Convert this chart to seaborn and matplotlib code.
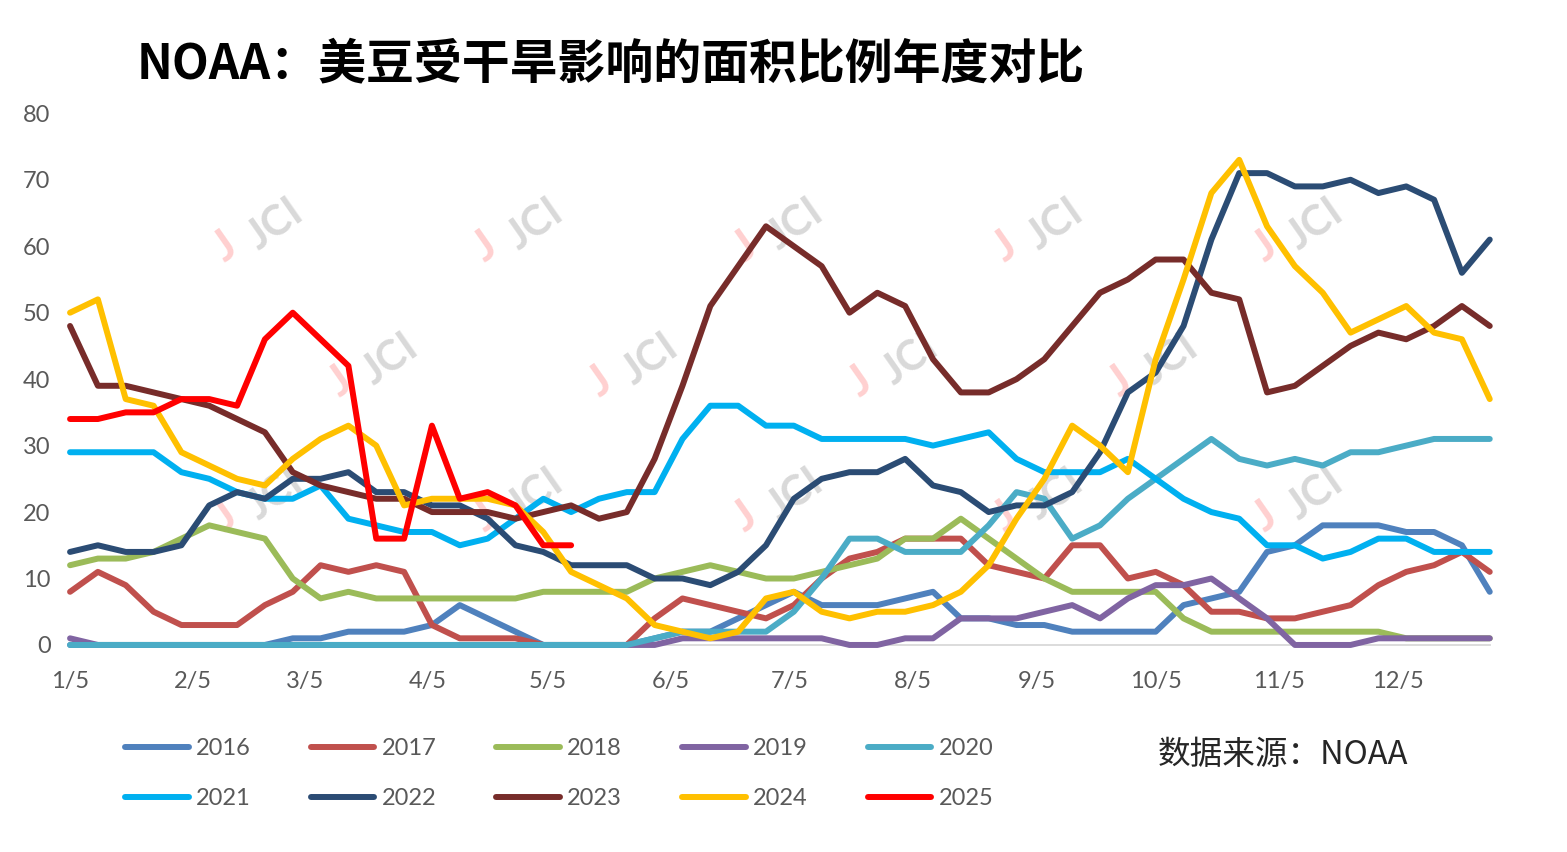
import pandas as pd
import matplotlib
matplotlib.use("Agg")
import matplotlib.pyplot as plt
import matplotlib.dates as mdates
from matplotlib.ticker import FuncFormatter
import seaborn as sns

# weekly points, plotted on a common calendar year
weeks = pd.date_range("2025-01-05", periods=52, freq="7D")

years = ["2016", "2017", "2018", "2019", "2020",
         "2021", "2022", "2023", "2024", "2025"]
colors = ["#4F81BD", "#C0504D", "#9BBB59", "#8064A2", "#4BACC6",
          "#00B0F0", "#2B4C74", "#772C2A", "#FFC000", "#FF0000"]

y2016 = [0, 0, 0, 0, 0, 0, 0, 0, 1, 1, 2, 2, 2, 3, 6, 4, 2, 0, 0, 0, 0, 1, 2, 2, 4, 6,
         8, 6, 6, 6, 7, 8, 4, 4, 3, 3, 2, 2, 2, 2, 6, 7, 8, 14, 15, 18, 18, 18, 17, 17, 15, 8]
y2017 = [8, 11, 9, 5, 3, 3, 3, 6, 8, 12, 11, 12, 11, 3, 1, 1, 1, 0, 0, 0, 0, 4, 7, 6, 5, 4,
         6, 10, 13, 14, 16, 16, 16, 12, 11, 10, 15, 15, 10, 11, 9, 5, 5, 4, 4, 5, 6, 9, 11, 12, 14, 11]
y2018 = [12, 13, 13, 14, 16, 18, 17, 16, 10, 7, 8, 7, 7, 7, 7, 7, 7, 8, 8, 8, 8, 10, 11, 12, 11, 10,
         10, 11, 12, 13, 16, 16, 19, 16, 13, 10, 8, 8, 8, 8, 4, 2, 2, 2, 2, 2, 2, 2, 1, 1, 1, 1]
y2019 = [1, 0, 0, 0, 0, 0, 0, 0, 0, 0, 0, 0, 0, 0, 0, 0, 0, 0, 0, 0, 0, 0, 1, 1, 1, 1,
         1, 1, 0, 0, 1, 1, 4, 4, 4, 5, 6, 4, 7, 9, 9, 10, 7, 4, 0, 0, 0, 1, 1, 1, 1, 1]
y2020 = [0, 0, 0, 0, 0, 0, 0, 0, 0, 0, 0, 0, 0, 0, 0, 0, 0, 0, 0, 0, 0, 1, 2, 2, 2, 2,
         5, 10, 16, 16, 14, 14, 14, 18, 23, 22, 16, 18, 22, 25, 28, 31, 28, 27, 28, 27, 29, 29, 30, 31, 31, 31]
y2021 = [29, 29, 29, 29, 26, 25, 23, 22, 22, 24, 19, 18, 17, 17, 15, 16, 19, 22, 20, 22, 23, 23, 31, 36, 36, 33,
         33, 31, 31, 31, 31, 30, 31, 32, 28, 26, 26, 26, 28, 25, 22, 20, 19, 15, 15, 13, 14, 16, 16, 14, 14, 14]
y2022 = [14, 15, 14, 14, 15, 21, 23, 22, 25, 25, 26, 23, 23, 21, 21, 19, 15, 14, 12, 12, 12, 10, 10, 9, 11, 15,
         22, 25, 26, 26, 28, 24, 23, 20, 21, 21, 23, 29, 38, 41, 48, 61, 71, 71, 69, 69, 70, 68, 69, 67, 56, 61]
y2023 = [48, 39, 39, 38, 37, 36, 34, 32, 26, 24, 23, 22, 22, 20, 20, 20, 19, 20, 21, 19, 20, 28, 39, 51, 57, 63,
         60, 57, 50, 53, 51, 43, 38, 38, 40, 43, 48, 53, 55, 58, 58, 53, 52, 38, 39, 42, 45, 47, 46, 48, 51, 48]
y2024 = [50, 52, 37, 36, 29, 27, 25, 24, 28, 31, 33, 30, 21, 22, 22, 22, 21, 17, 11, 9, 7, 3, 2, 1, 2, 7,
         8, 5, 4, 5, 5, 6, 8, 12, 19, 25, 33, 30, 26, 43, 55, 68, 73, 63, 57, 53, 47, 49, 51, 47, 46, 37]
y2025 = [34, 34, 35, 35, 37, 37, 36, 46, 50, 46, 42, 16, 16, 33, 22, 23, 21, 15, 15]

series = [y2016, y2017, y2018, y2019, y2020, y2021, y2022, y2023, y2024, y2025]

rows = []
for year, values in zip(years, series):
    for d, v in zip(weeks, values):
        rows.append({"date": d, "value": v, "year": year})
df = pd.DataFrame(rows)

sns.set_theme(style="white")
plt.rcParams["font.family"] = ["Lato", "Noto Sans CJK SC", "DejaVu Sans"]

fig = plt.figure(figsize=(15.67, 8.52), dpi=100)
ax = fig.add_axes([0.0447, 0.243, 0.906, 0.624])

sns.lineplot(data=df, x="date", y="value", hue="year", hue_order=years,
             palette=dict(zip(years, colors)), linewidth=4.3,
             estimator=None, sort=False, ax=ax)
for ln in ax.lines:
    ln.set_clip_on(False)
    ln.set_solid_joinstyle("round")

handles, labels = ax.get_legend_handles_labels()
ax.get_legend().remove()
# legend fills column by column, so interleave to read row by row
order = [0, 5, 1, 6, 2, 7, 3, 8, 4, 9]
handles = [handles[i] for i in order]
labels = [labels[i] for i in order]

ax.set_xlim(weeks[0], weeks[-1])
ax.set_ylim(0, 80)
ax.set_yticks(range(0, 81, 10))
ax.xaxis.set_major_locator(mdates.DayLocator(bymonthday=5))
ax.xaxis.set_major_formatter(FuncFormatter(
    lambda x, p: f"{mdates.num2date(x).month}/{mdates.num2date(x).day}"))
ax.set_xlabel("")
ax.set_ylabel("")
ax.tick_params(axis="both", length=0, labelsize=17, labelcolor="#595959")
ax.tick_params(axis="x", pad=19)
ax.tick_params(axis="y", pad=14)
sns.despine(ax=ax, left=True)
ax.spines["bottom"].set_color("#D9D9D9")
ax.spines["bottom"].set_linewidth(1.3)
ax.spines["bottom"].set_zorder(0.5)

# faint JCI watermarks behind the lines
W, H = 1567, 852
marks = [(275, 225), (535, 225), (795, 225), (1055, 225), (1315, 225),
         (390, 360), (650, 360), (910, 360), (1170, 360),
         (275, 495), (535, 495), (795, 495), (1055, 495), (1315, 495)]
for mx, my in marks:
    ax.text(mx / W, 1 - my / H, "JCI", transform=fig.transFigure, rotation=35,
            ha="center", va="center", fontsize=30, color="#D9D9D9",
            fontweight="bold", zorder=1, clip_on=False)
    ax.text((mx - 50) / W, 1 - (my + 22) / H, "J", transform=fig.transFigure,
            rotation=35, ha="center", va="center", fontsize=32, color="#FFD0D0",
            fontweight="bold", zorder=1, clip_on=False)

fig.legend(handles, labels, ncol=5, loc="upper left",
           bbox_to_anchor=(0.0798, 0.134), frameon=False, fontsize=17,
           labelcolor="#595959", handlelength=2.7, handletextpad=0.3,
           columnspacing=2.54, labelspacing=1.25, borderpad=0, borderaxespad=0)

fig.text(137 / W, 1 - 64 / H, "NOAA：美豆受干旱影响的面积比例年度对比",
         ha="left", va="center", fontsize=34.5, fontweight="bold", color="black",
         family=["Noto Sans CJK SC", "DejaVu Sans"])
fig.text(1158 / W, 1 - 755 / H, "数据来源：NOAA", ha="left", va="center",
         fontsize=23.5, color="#262626", family=["Noto Sans CJK SC", "DejaVu Sans"])

fig.savefig("out.png", dpi=100)
